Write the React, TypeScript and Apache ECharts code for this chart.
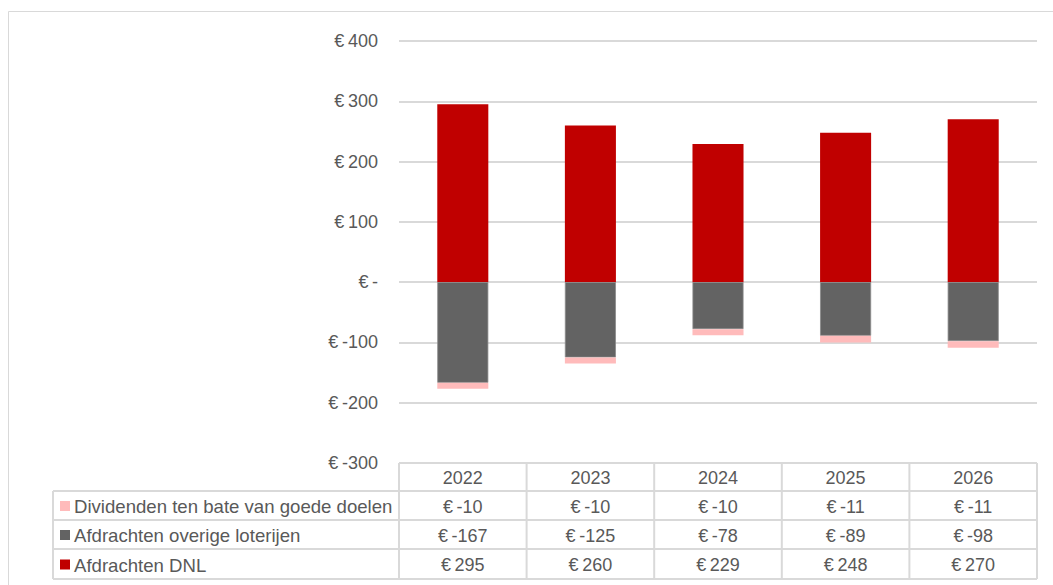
import React, { useEffect, useRef } from "react";
import * as echarts from "echarts";

const years = ["2022", "2023", "2024", "2025", "2026"];
const dnl = [295, 260, 229, 248, 270];
const overige = [-167, -125, -78, -89, -98];
const dividenden = [-10, -10, -10, -11, -11];
const seriesNames = [
  "Dividenden ten bate van goede doelen",
  "Afdrachten overige loterijen",
  "Afdrachten DNL",
];
const colors = ["#ffbbbb", "#636363", "#c00000"];
const yTicks = { min: -300, max: 400, interval: 100 };

const W = 1053;
const H = 585;
const gridLeft = 399;
const gridRight = 1037;
const gridTop = 41;
const gridBottom = 463;
const tableLeft = 53;
const rowEdges = [463, 491, 520, 549, 579];
const font = "'Liberation Sans', Arial, sans-serif";
const fontSize = 18;
const nameFontSize = 18.6;
const textColor = "#595959";
const lineColor = "#d9d9d9";

function fmt(v: number) {
  if (v === 0) return "€\u2009-";
  return "€\u2009" + v;
}

export default function App() {
  const ref = useRef<HTMLDivElement>(null);
  useEffect(() => {
    const chart = echarts.init(ref.current!, null, { renderer: "svg" });
    const colW = (gridRight - gridLeft) / years.length;
    const graphics: any[] = [];
    graphics.push({
      type: "rect",
      shape: { x: 8.5, y: 11.5, width: 1060, height: 600 },
      style: { fill: "none", stroke: lineColor, lineWidth: 1 },
      silent: true,
    });
    const line = (x1: number, y1: number, x2: number, y2: number) =>
      graphics.push({
        type: "line",
        shape: { x1, y1, x2, y2 },
        style: { stroke: lineColor, lineWidth: 2 },
        silent: true,
      });
    line(gridLeft, rowEdges[0], gridRight, rowEdges[0]);
    for (let i = 1; i < rowEdges.length; i++) line(tableLeft, rowEdges[i], gridRight, rowEdges[i]);
    line(tableLeft, rowEdges[1], tableLeft, rowEdges[4]);
    for (let c = 0; c <= years.length; c++) {
      const x = gridLeft + c * colW;
      line(x, rowEdges[0], x, rowEdges[4]);
    }
    const rowCenter = (r: number) => (rowEdges[r] + rowEdges[r + 1]) / 2 + 1;
    const cellText = (x: number, y: number, text: string, align: string, size: number) =>
      graphics.push({
        type: "text",
        x,
        y,
        style: {
          text,
          fill: textColor,
          font: `${size}px ${font}`,
          align,
          verticalAlign: "middle",
        },
        silent: true,
      });
    years.forEach((yr, c) => cellText(gridLeft + (c + 0.5) * colW, rowCenter(0), yr, "center", fontSize));
    const rowsData = [dividenden, overige, dnl];
    rowsData.forEach((arr, r) => {
      const cy = rowCenter(r + 1);
      graphics.push({
        type: "rect",
        shape: { x: 60, y: cy - 5.5, width: 10, height: 10 },
        style: { fill: colors[r] },
        silent: true,
      });
      cellText(74, cy, seriesNames[r], "left", nameFontSize);
      arr.forEach((v, c) => cellText(gridLeft + (c + 0.5) * colW, cy, fmt(v), "center", fontSize));
    });

    chart.setOption({
      animation: false,
      backgroundColor: "#ffffff",
      grid: {
        left: gridLeft,
        right: W - gridRight,
        top: gridTop,
        bottom: H - gridBottom,
        containLabel: false,
      },
      xAxis: {
        type: "category",
        data: years,
        axisLine: { show: false },
        axisTick: { show: false },
        axisLabel: { show: false },
      },
      yAxis: {
        type: "value",
        min: yTicks.min,
        max: yTicks.max,
        interval: yTicks.interval,
        axisLine: { show: false },
        axisTick: { show: false },
        splitLine: {
          show: true,
          lineStyle: { color: lineColor, width: 2 },
        },
        axisLabel: {
          formatter: (v: number) => fmt(v),
          color: textColor,
          fontFamily: font,
          fontSize: fontSize,
          margin: 21,
          showMaxLabel: true,
          showMinLabel: true,
        },
      },
      series: [
        {
          name: seriesNames[2],
          type: "bar",
          stack: "total",
          data: dnl,
          barWidth: "40%",
          itemStyle: { color: colors[2] },
        },
        {
          name: seriesNames[1],
          type: "bar",
          stack: "total",
          data: overige,
          barWidth: "40%",
          itemStyle: { color: colors[1], borderColor: "#8a8a8a", borderWidth: 0.8 },
        },
        {
          name: seriesNames[0],
          type: "bar",
          stack: "total",
          data: dividenden,
          barWidth: "40%",
          itemStyle: { color: colors[0] },
        },
      ],
      graphic: graphics,
    });
    return () => chart.dispose();
  }, []);
  return (
    <div
      ref={ref}
      style={{ position: "fixed", left: 0, top: 0, width: W, height: H }}
    />
  );
}
